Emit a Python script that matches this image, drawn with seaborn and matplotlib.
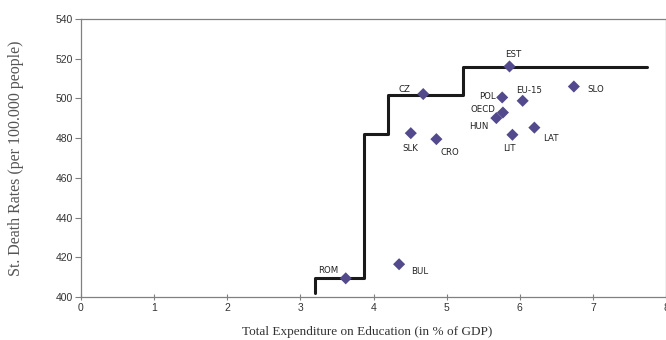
import matplotlib
matplotlib.use("Agg")
import matplotlib.pyplot as plt
import seaborn as sns
import pandas as pd

# countries: education spending (% of GDP) vs standardised death rate
countries = ["EST", "CZ", "POL", "EU-15", "SLO", "OECD", "HUN",
             "SLK", "CRO", "LIT", "LAT", "ROM", "BUL"]
spending = [5.86, 4.68, 5.76, 6.04, 6.74, 5.77, 5.68,
            4.51, 4.86, 5.90, 6.20, 3.62, 4.35]
death_rate = [516.1, 502.2, 500.5, 498.8, 506.0, 492.9, 490.1,
              482.5, 479.5, 481.7, 485.3, 409.4, 416.5]

# frontier (step line)
frontier_x = [3.205, 3.874, 4.204, 5.222, 7.738]
frontier_y = [402.0, 409.8, 482.0, 501.6, 516.0]

# label offsets in pixels (dx, dy), dy up positive
label_offsets = {
    "EST": (4, 12), "CZ": (-19, 5), "POL": (-15, 1), "EU-15": (6, 10),
    "SLO": (22, -3), "OECD": (-20, 3), "HUN": (-18, -8), "SLK": (0, -15),
    "CRO": (13, -13), "LIT": (-3, -14), "LAT": (17, -11), "ROM": (-17, 8),
    "BUL": (21, -7),
}

df = pd.DataFrame({"country": countries, "spending": spending, "rate": death_rate})
frontier = pd.DataFrame({"x": frontier_x, "y": frontier_y})

sns.set_style("white")
fig = plt.figure(figsize=(6.66, 3.4), dpi=100)
ax = fig.add_axes([81 / 666, 43 / 340, 585 / 666, 278 / 340])

sns.lineplot(data=frontier, x="x", y="y", ax=ax, color="#1a1a1a", lw=2.2,
             drawstyle="steps-pre", sort=False, estimator=None)
sns.scatterplot(data=df, x="spending", y="rate", ax=ax, marker="D", s=38,
                color="#524a8c", edgecolor="none", zorder=3)

for c, x, y in zip(countries, spending, death_rate):
    dx, dy = label_offsets[c]
    ax.annotate(c, (x, y), xytext=(dx * 0.72, dy * 0.72), textcoords="offset points",
                ha="center", va="center", fontsize=6.2, color="#222222",
                family="DejaVu Sans")

ax.set_xlim(0, 8)
ax.set_ylim(400, 540)
ax.set_xticks(range(0, 9))
ax.set_yticks(range(400, 541, 20))
for s in ax.spines.values():
    s.set_color("#808080")
    s.set_linewidth(0.9)
ax.tick_params(axis="y", direction="out", length=4, width=0.8, color="#808080",
               labelsize=7.5, labelcolor="#333333", pad=2, left=True)
ax.tick_params(axis="x", direction="inout", length=4, width=0.8, color="#808080",
               labelsize=7.5, labelcolor="#333333", pad=2, bottom=True)
for lab in ax.get_xticklabels() + ax.get_yticklabels():
    lab.set_family("Liberation Sans")

ax.set_xlabel("Total Expenditure on Education (in % of GDP)", family="Liberation Serif",
              fontsize=9.5, color="#333333")
ax.set_ylabel("St. Death Rates (per 100.000 people)", family="Liberation Serif",
              fontsize=11.5, color="#555555")
ax.xaxis.set_label_coords(0.49, -0.106)
ax.yaxis.set_label_coords(-0.097, 0.5)

fig.savefig("out.png", dpi=100)
